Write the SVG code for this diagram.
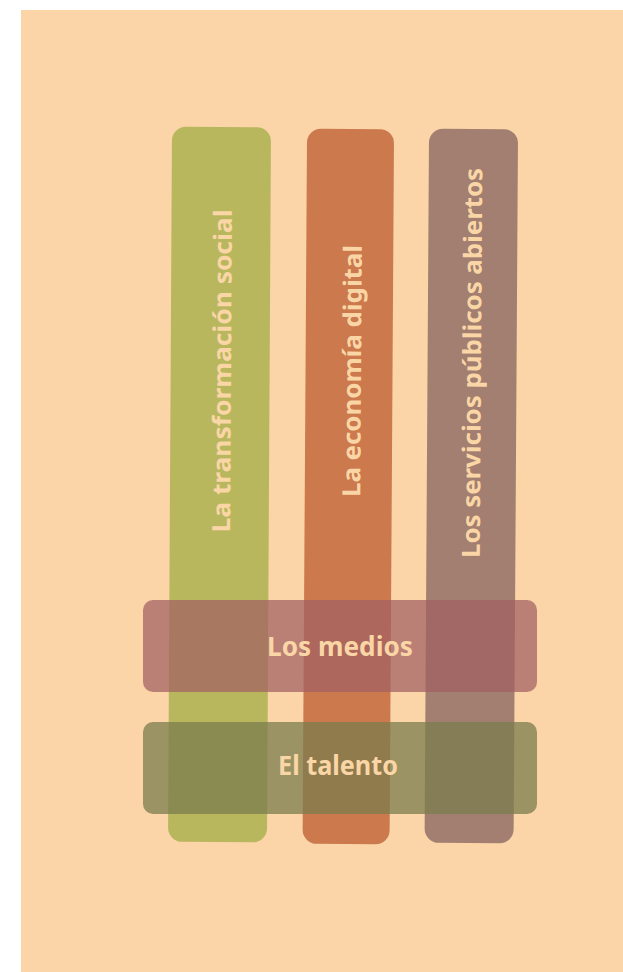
<svg xmlns="http://www.w3.org/2000/svg" width="623" height="972" viewBox="0 0 623 972">
<style>
.lbl{font-family:"Noto Sans","Open Sans","Liberation Sans",sans-serif;font-weight:bold;fill:#FAD6A6;text-anchor:middle}
.v{font-size:25px}
.h{font-size:26px}
</style>
<rect x="0" y="0" width="623" height="972" fill="#ffffff"/>
<rect x="21" y="10" width="602" height="962" fill="#FBD5A8"/>
<g id="transformacion">
<rect x="-49.5" y="-357.5" width="99" height="715" rx="14" fill="#B9B75E" transform="translate(219.5,484.5) rotate(0.32)"/>
<text class="lbl v" transform="translate(231,371) rotate(-89.68)" textLength="323" lengthAdjust="spacingAndGlyphs">La transformación social</text>
</g>
<g id="economia">
<rect x="-43.5" y="-357.5" width="87" height="715" rx="14" fill="#CB794D" transform="translate(348.3,486.5) rotate(0.36)"/>
<text class="lbl v" transform="translate(361,371) rotate(-89.64)" textLength="252" lengthAdjust="spacingAndGlyphs">La economía digital</text>
</g>
<g id="servicios">
<rect x="-44.5" y="-357" width="89" height="714" rx="14" fill="#A27F70" transform="translate(471.3,486) rotate(0.36)"/>
<text class="lbl v" transform="translate(481,363) rotate(-89.64)" textLength="390" lengthAdjust="spacingAndGlyphs">Los servicios públicos abiertos</text>
</g>
<g id="medios">
<rect x="143" y="600" width="394" height="92" rx="10" fill="#A15F63" fill-opacity="0.72"/>
<text class="lbl h" x="340" y="656" textLength="146" lengthAdjust="spacingAndGlyphs">Los medios</text>
</g>
<g id="talento">
<rect x="143" y="722" width="394" height="92" rx="10" fill="#7B7C4C" fill-opacity="0.75"/>
<text class="lbl h" x="338" y="775" textLength="120" lengthAdjust="spacingAndGlyphs">El talento</text>
</g>
<g id="connectors"></g>
</svg>
